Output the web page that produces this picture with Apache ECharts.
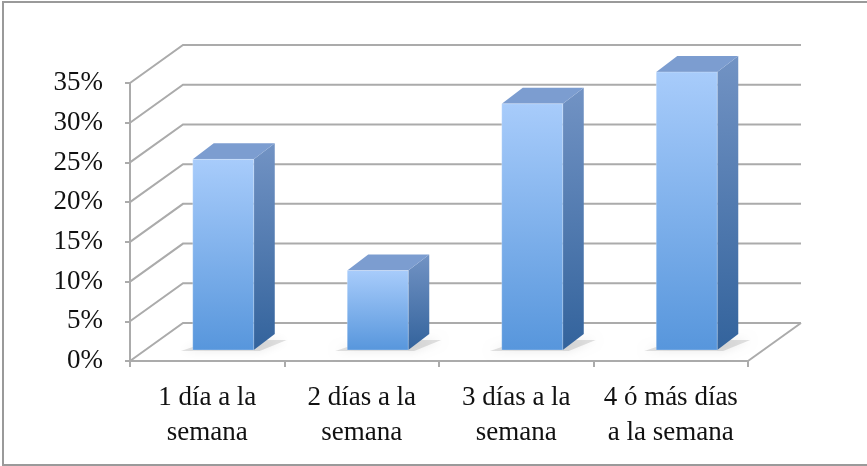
<!DOCTYPE html>
<html>
<head>
<meta charset="utf-8">
<script src="https://cdn.jsdelivr.net/npm/echarts@6/dist/echarts.min.js"></script>
<style>
  html, body { margin: 0; padding: 0; background: #fff; }
  #main { width: 867px; height: 466px; }
</style>
</head>
<body>
<div id="main"></div>
<script>
var categories = ['1 día a la\nsemana', '2 días a la\nsemana', '3 días a la\nsemana', '4 ó más días\na la semana'];
var values = [0.24, 0.10, 0.31, 0.35];
var yTicks = [0, 0.05, 0.10, 0.15, 0.20, 0.25, 0.30, 0.35];

// depth of the box (pixels) and of each bar
var DX = 53, DY = -38;
var BDX = 21, BDY = -16;
var gridColor = '#ababab';
var font = '"Liberation Serif", "DejaVu Serif", serif';

var dom = document.getElementById('main');
var myChart = echarts.init(dom);

function renderWall(params, api) {
    var cs = params.coordSys;
    var y = api.coord([0, api.value(0)])[1];
    var left = cs.x, right = cs.x + cs.width;
    var children = [{
        type: 'polyline',
        shape: { points: [[left, y], [left + DX, y + DY], [right + DX, y + DY]] },
        style: { stroke: gridColor, lineWidth: 2, fill: null }
    }];
    if (api.value(0) === 0) {
        children.push({
            type: 'line',
            shape: { x1: right, y1: y, x2: right + DX, y2: y + DY },
            style: { stroke: gridColor, lineWidth: 2 }
        });
    }
    return { type: 'group', children: children };
}

function renderBar(params, api) {
    var ci = api.value(0);
    var base = api.coord([ci, 0]);
    var top = api.coord([ci, api.value(1)]);
    var band = api.size([1, 0])[0];
    var w = band * 0.395;
    var ox = (DX - BDX) / 2, oy = (DY - BDY) / 2;
    var x0 = base[0] - w / 2 + ox, x1 = x0 + w;
    var yb = base[1] + oy, yt = top[1] + oy;
    return {
        type: 'group',
        children: [{
            type: 'polygon',
            shape: { points: [[x0 - 12, yb + 1], [x1 + 6, yb + 1], [x1 + BDX + 12, yb + BDY + 6], [x0 + BDX, yb + BDY + 6]] },
            style: { fill: 'rgba(90,90,90,0.18)', shadowBlur: 10, shadowColor: 'rgba(0,0,0,0.45)' }
        }, {
            type: 'polygon',
            shape: { points: [[x1, yt], [x1 + BDX, yt + BDY], [x1 + BDX, yb + BDY], [x1, yb]] },
            style: { fill: new echarts.graphic.LinearGradient(0, 0, 0, 1, [
                { offset: 0, color: '#7293c4' }, { offset: 1, color: '#33639c' }]) }
        }, {
            type: 'polygon',
            shape: { points: [[x0, yt], [x0 + BDX, yt + BDY], [x1 + BDX, yt + BDY], [x1, yt]] },
            style: { fill: '#7c9dd0' }
        }, {
            type: 'rect',
            shape: { x: x0, y: yt, width: w, height: yb - yt },
            style: { fill: new echarts.graphic.LinearGradient(0, 0, 0, 1, [
                { offset: 0, color: '#a8ccfb' }, { offset: 1, color: '#5796dc' }]),
                stroke: 'rgba(255,255,255,0.25)', lineWidth: 1 }
        }]
    };
}

var option = {
    animation: false,
    graphic: [{
        type: 'rect',
        shape: { x: 3, y: 2, width: 900, height: 463 },
        style: { fill: null, stroke: '#9a9a9a', lineWidth: 2 },
        silent: true
    }],
    grid: { left: 130, right: 119, top: 83, bottom: 105 },
    xAxis: {
        type: 'category',
        data: categories,
        axisLine: { lineStyle: { color: gridColor, width: 2 } },
        axisTick: { show: true, length: 6, lineStyle: { color: gridColor, width: 2 } },
        axisLabel: { interval: 0, color: '#111', fontFamily: font, fontSize: 27, lineHeight: 35, margin: 19 }
    },
    yAxis: {
        type: 'value',
        min: 0,
        max: 0.35,
        interval: 0.05,
        axisLine: { show: true, lineStyle: { color: gridColor, width: 2 } },
        axisTick: { show: true, length: 5, lineStyle: { color: gridColor, width: 2 } },
        splitLine: { show: false },
        axisLabel: {
            color: '#111', fontFamily: font, fontSize: 27, margin: 27,
            formatter: function (v) { return Math.round(v * 100) + '%'; }
        }
    },
    series: [{
        type: 'custom',
        renderItem: renderWall,
        data: yTicks.map(function (v) { return [v]; }),
        silent: true,
        z: 1
    }, {
        type: 'custom',
        renderItem: renderBar,
        data: values.map(function (v, i) { return [i, v]; }),
        z: 3
    }]
};

if (option && typeof option === 'object') {
    myChart.setOption(option);
}
</script>
</body>
</html>
